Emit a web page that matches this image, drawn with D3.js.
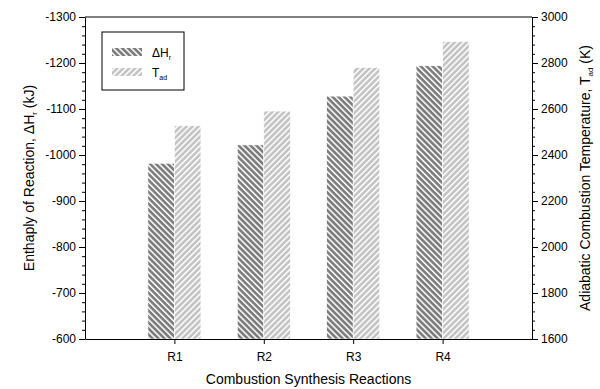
<!DOCTYPE html>
<html>
<head>
<meta charset="utf-8">
<script src="https://cdn.jsdelivr.net/npm/d3@7"></script>
<style>
  body { margin: 0; background: #fff; }
  svg, .axis { font-family: "Liberation Sans", Arial, sans-serif; }
  .axis text { font-size: 12px; fill: #000; }
  .axis path, .axis line { stroke: #000; }
  .title { font-size: 14px; fill: #000; }
</style>
</head>
<body>
<script>
const width = 600;
const height = 389;

// data
const reactions = ['R1', 'R2', 'R3', 'R4'];
const enthalpy = [-982, -1022, -1128, -1194];   // kJ, left axis
const tempAd = [2527, 2591, 2780, 2893];         // K, right axis
const leftTicks = [-600, -700, -800, -900, -1000, -1100, -1200, -1300];
const rightTicks = [1600, 1800, 2000, 2200, 2400, 2600, 2800, 3000];

const margin = { top: 17, right: 68, bottom: 50, left: 85 };
const x0 = margin.left, x1 = width - margin.right;
const y0 = height - margin.bottom, y1 = margin.top;

const svg = d3.select('body')
    .append('svg')
    .attr('width', width)
    .attr('height', height);

// hatch patterns
const defs = svg.append('defs');
function hatch(id, bg, angle) {
    const p = defs.append('pattern')
        .attr('id', id)
        .attr('patternUnits', 'userSpaceOnUse')
        .attr('width', 4.2)
        .attr('height', 4.2)
        .attr('patternTransform', `rotate(${angle})`);
    p.append('rect').attr('width', 4.2).attr('height', 4.2).attr('fill', bg);
    p.append('rect').attr('width', 1.5).attr('height', 4.2).attr('fill', '#fff');
}
hatch('hatchDark', '#7d7d7d', -45);
hatch('hatchLight', '#c4c4c4', 45);

const x = d3.scaleLinear().domain([0, 5]).range([x0, x1]);
const yL = d3.scaleLinear().domain([-600, -1300]).range([y0, y1]);
const yR = d3.scaleLinear().domain([1600, 3000]).range([y0, y1]);

const barW = 26.5;
const plain = d => String(d);   // keep ascii hyphen, no comma

// bars
svg.selectAll('.bar-h')
    .data(enthalpy)
    .enter()
    .append('rect')
        .attr('class', 'bar-h')
        .attr('x', (d, i) => x(i + 1) - barW)
        .attr('y', d => yL(d))
        .attr('width', barW)
        .attr('height', d => yL(-600) - yL(d))
        .attr('fill', 'url(#hatchDark)')
        .attr('stroke', '#fff')
        .attr('stroke-width', 0.6);

svg.selectAll('.bar-t')
    .data(tempAd)
    .enter()
    .append('rect')
        .attr('class', 'bar-t')
        .attr('x', (d, i) => x(i + 1))
        .attr('y', d => yR(d))
        .attr('width', barW)
        .attr('height', d => yR(1600) - yR(d))
        .attr('fill', 'url(#hatchLight)')
        .attr('stroke', '#fff')
        .attr('stroke-width', 0.6);

// frame line on top
svg.append('line')
    .attr('x1', x0).attr('x2', x1).attr('y1', y1).attr('y2', y1)
    .attr('stroke', '#000');

// left axis
const minorL = d3.range(-600, -1301, -20).filter(v => v % 100 !== 0);
svg.append('g')
    .attr('class', 'axis')
    .attr('transform', `translate(${x0},0)`)
    .call(d3.axisLeft(yL).tickValues(minorL).tickSize(3).tickFormat(''))
    .call(g => g.select('.domain').remove());
svg.append('g')
    .attr('class', 'axis')
    .attr('transform', `translate(${x0},0)`)
    .call(d3.axisLeft(yL).tickValues(leftTicks).tickSize(6).tickSizeOuter(0).tickPadding(3).tickFormat(plain));

// right axis
const minorR = d3.range(1600, 3001, 40).filter(v => v % 200 !== 0);
svg.append('g')
    .attr('class', 'axis')
    .attr('transform', `translate(${x1},0)`)
    .call(d3.axisRight(yR).tickValues(minorR).tickSize(3).tickFormat(''))
    .call(g => g.select('.domain').remove());
svg.append('g')
    .attr('class', 'axis')
    .attr('transform', `translate(${x1},0)`)
    .call(d3.axisRight(yR).tickValues(rightTicks).tickSize(6).tickSizeOuter(0).tickPadding(3).tickFormat(plain));

// bottom axis
svg.append('g')
    .attr('class', 'axis')
    .attr('transform', `translate(0,${y0})`)
    .call(d3.axisBottom(x).tickValues([1, 2, 3, 4]).tickSize(5).tickSizeOuter(0).tickPadding(8)
        .tickFormat((d, i) => reactions[i]));

// axis titles
svg.append('text')
    .attr('class', 'title')
    .attr('x', (x0 + x1) / 2)
    .attr('y', 384)
    .attr('text-anchor', 'middle')
    .text('Combustion Synthesis Reactions');

const lt = svg.append('text')
    .attr('class', 'title')
    .attr('transform', `translate(34,${(y0 + y1) / 2}) rotate(-90)`)
    .attr('text-anchor', 'middle');
lt.append('tspan').text('Enthaply of Reaction, \u0394H');
lt.append('tspan').attr('font-size', 8).attr('dy', 3).text('r');
lt.append('tspan').attr('dy', -3).text(' (kJ)');

const rt = svg.append('text')
    .attr('class', 'title')
    .attr('transform', `translate(590,${(y0 + y1) / 2}) rotate(-90)`)
    .attr('text-anchor', 'middle');
rt.append('tspan').text('Adiabatic Combustion Temperature, T');
rt.append('tspan').attr('font-size', 8).attr('dy', 3).text('ad');
rt.append('tspan').attr('dy', -3).text(' (K)');

// legend
const legend = svg.append('g').attr('transform', 'translate(102,32)');
legend.append('rect')
    .attr('width', 82).attr('height', 58)
    .attr('fill', '#fff').attr('stroke', '#000');
const legItems = [
    { fill: 'url(#hatchDark)', main: '\u0394H', sub: 'r' },
    { fill: 'url(#hatchLight)', main: 'T', sub: 'ad' }
];
legItems.forEach((d, i) => {
    legend.append('rect')
        .attr('x', 10).attr('y', 16 + i * 20)
        .attr('width', 30).attr('height', 8)
        .attr('fill', d.fill);
    const t = legend.append('text')
        .attr('x', 50).attr('y', 25 + i * 20)
        .attr('font-size', 12)
        .attr('fill', '#000');
    t.append('tspan').text(d.main);
    t.append('tspan').attr('font-size', 7).attr('dy', 3).text(d.sub);
});
</script>
</body>
</html>
